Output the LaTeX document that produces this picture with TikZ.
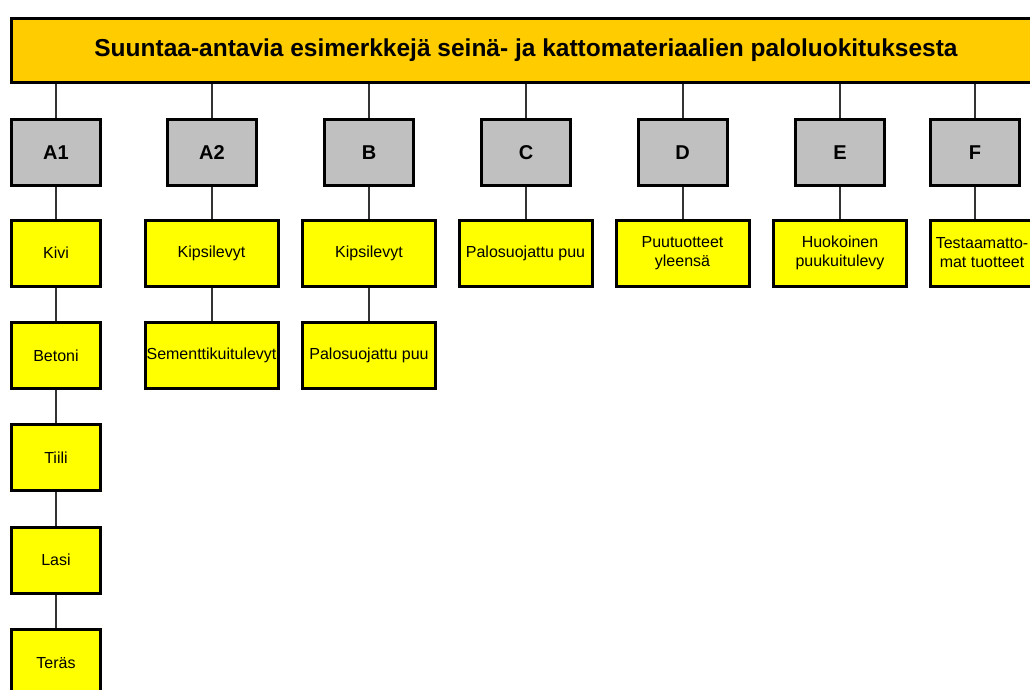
\documentclass[tikz,border=0pt]{standalone}
\usepackage{fontspec}
\setmainfont{Liberation Sans}
\usetikzlibrary{calc}
\usetikzlibrary{positioning}
\definecolor{TitleOrange}{HTML}{FFCC00}
\definecolor{ClassGray}{HTML}{C0C0C0}
\definecolor{ItemYellow}{HTML}{FFFF00}
\newcommand*{\rowgap}{102.4}

\begin{document}
\begin{tikzpicture}[x=1pt,y=-1pt]
		\tikzstyle{Title} = [draw=black, line width=3pt, fill=TitleOrange, minimum width=1029pt, minimum height=64pt, inner sep=0pt, font=\bfseries\fontsize{24.5}{28}\selectfont]
		\tikzstyle{Class} = [draw=black, line width=3pt, fill=ClassGray, minimum width=89pt, minimum height=66pt, inner sep=0pt, font=\bfseries\fontsize{20}{24}\selectfont]
		\tikzstyle{Item} = [draw=black, line width=3pt, fill=ItemYellow, minimum width=89pt, minimum height=66pt, inner sep=0pt, align=center, font=\fontsize{16}{19}\selectfont]
		\tikzstyle{Wide} = [Item, minimum width=133pt]
		\tikzstyle{Link} = [line width=2pt, black!80]

		\useasboundingbox (0,0) rectangle (1030,689);
		\clip (0,0) rectangle (1030,689);

		%Draw title bar
		\node[Title] (Title) at (526,50.5) {Suuntaa-antavia esimerkkejä seinä- ja kattomateriaalien paloluokituksesta};

		%Draw fire classes
		\foreach \cls/\x in {A1/56, A2/212, B/369, C/526, D/682.5, E/840, F/975}{
			\node[Class] (\cls) at (\x,152.5) {\cls};
			\draw[Link] (\cls.north |- Title.south) -- (\cls.north);
		}

		%Draw materials of class A1
		\node[Item] (Kivi) at (56,253) {Kivi};
		\node[Item] (Betoni) at ($(Kivi) + (0,\rowgap)$) {Betoni};
		\node[Item] (Tiili) at ($(Betoni) + (0,\rowgap)$) {Tiili};
		\node[Item] (Lasi) at ($(Tiili) + (0,\rowgap)$) {Lasi};
		\node[Item] (Teras) at ($(Lasi) + (0,\rowgap)$) {Teräs};

		%Draw materials of the other classes
		\node[Wide] (KipsiA) at (211.5,253) {Kipsilevyt};
		\node[Wide] (Sementti) at ($(KipsiA) + (0,\rowgap)$) {Sementtikuitulevyt};
		\node[Wide] (KipsiB) at (369,253) {Kipsilevyt};
		\node[Wide] (PaloB) at ($(KipsiB) + (0,\rowgap)$) {Palosuojattu puu};
		\node[Wide] (PaloC) at (525.5,253) {Palosuojattu puu};
		\node[Wide] (Puu) at (682.5,253) {Puutuotteet\\yleensä};
		\node[Wide] (Huokoinen) at (840,253) {Huokoinen\\puukuitulevy};
		\node[Item, minimum width=103pt] (Testaamaton) at (982,253) {Testaamatto-\\mat tuotteet};

		%Draw links
		\draw[Link] (A1.south) -- (Kivi.north);
		\draw[Link] (Kivi.south) -- (Betoni.north);
		\draw[Link] (Betoni.south) -- (Tiili.north);
		\draw[Link] (Tiili.south) -- (Lasi.north);
		\draw[Link] (Lasi.south) -- (Teras.north);
		\draw[Link] (A2.south) -- (A2.south |- KipsiA.north);
		\draw[Link] (KipsiA.south) -- (KipsiA.south |- Sementti.north);
		\draw[Link] (B.south) -- (KipsiB.north);
		\draw[Link] (KipsiB.south) -- (PaloB.north);
		\draw[Link] (C.south) -- (C.south |- PaloC.north);
		\draw[Link] (D.south) -- (Puu.north);
		\draw[Link] (E.south) -- (Huokoinen.north);
		\draw[Link] (F.south) -- (F.south |- Testaamaton.north);
	\end{tikzpicture}
\end{document}
